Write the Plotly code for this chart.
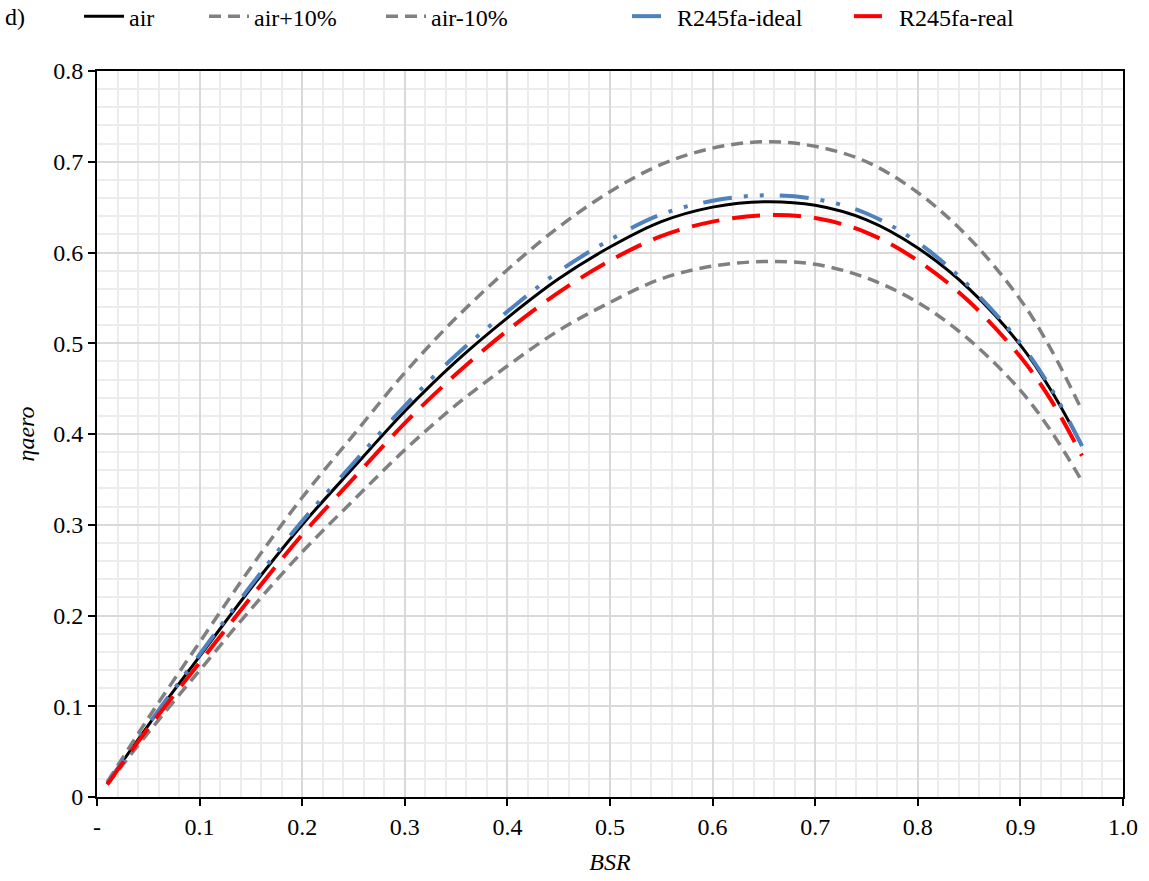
import plotly.graph_objects as go

bsr = [0.01, 0.05, 0.10, 0.15, 0.20, 0.25, 0.30, 0.35, 0.40, 0.45, 0.50,
       0.55, 0.60, 0.65, 0.70, 0.75, 0.80, 0.85, 0.90, 0.93, 0.96]
air = [0.015, 0.079, 0.155, 0.230, 0.300, 0.363, 0.425, 0.480, 0.528, 0.571, 0.606,
       0.634, 0.650, 0.656, 0.652, 0.636, 0.605, 0.560, 0.498, 0.448, 0.387]
air_p10 = [0.0165, 0.087, 0.1705, 0.253, 0.330, 0.399, 0.4675, 0.528, 0.581, 0.628, 0.667,
           0.697, 0.715, 0.722, 0.717, 0.700, 0.666, 0.616, 0.548, 0.493, 0.426]
air_m10 = [0.0135, 0.071, 0.1395, 0.207, 0.270, 0.327, 0.3825, 0.432, 0.475, 0.514, 0.545,
           0.571, 0.585, 0.590, 0.587, 0.572, 0.545, 0.504, 0.448, 0.403, 0.348]
r245_ideal = [0.015, 0.080, 0.157, 0.233, 0.304, 0.368, 0.431, 0.487, 0.535, 0.579, 0.614,
              0.642, 0.657, 0.663, 0.659, 0.643, 0.611, 0.563, 0.500, 0.450, 0.387]
r245_real = [0.014, 0.076, 0.148, 0.220, 0.289, 0.351, 0.412, 0.466, 0.514, 0.556, 0.591,
             0.618, 0.634, 0.641, 0.638, 0.622, 0.591, 0.546, 0.485, 0.437, 0.376]

x_tickvals = [0, 0.1, 0.2, 0.3, 0.4, 0.5, 0.6, 0.7, 0.8, 0.9, 1.0]
x_ticktext = ["-", "0.1", "0.2", "0.3", "0.4", "0.5", "0.6", "0.7", "0.8", "0.9", "1.0"]
y_tickvals = [0, 0.1, 0.2, 0.3, 0.4, 0.5, 0.6, 0.7, 0.8]
y_ticktext = ["0", "0.1", "0.2", "0.3", "0.4", "0.5", "0.6", "0.7", "0.8"]

FONT = "Liberation Serif"

series = [
    ("air", air, dict(color="black", width=3), "legend"),
    ("air+10%", air_p10, dict(color="#808080", width=3.5, dash="12px,7px"), "legend2"),
    ("air-10%", air_m10, dict(color="#808080", width=3.5, dash="12px,7px"), "legend3"),
    ("R245fa-ideal", r245_ideal, dict(color="#4F81BD", width=4, dash="29px,12px,4px,12px,4px,16px"), "legend4"),
    ("R245fa-real", r245_real, dict(color="#FF0000", width=4, dash="28px,13px"), "legend5"),
]
legend_x = [-0.0175, 0.1043, 0.2768, 0.5166, 0.7329]

fig = go.Figure()
for name, ys, ln, lg in series:
    fig.add_trace(go.Scatter(x=bsr, y=ys, name=name, mode="lines", line_shape="spline",
                             line=ln, legend=lg))

axis_common = dict(
    showline=True, linecolor="black", linewidth=2, mirror=True,
    ticks="outside", ticklen=7, tickcolor="black", tickwidth=2,
    showgrid=True, gridcolor="#d9d9d9", gridwidth=1.5,
    zeroline=False,
    tickfont=dict(family=FONT, size=24, color="black"),
)

fig.update_xaxes(
    range=[0, 1.0], tickvals=x_tickvals, ticktext=x_ticktext,
    minor=dict(dtick=0.02, tick0=0, showgrid=True, gridcolor="#ececec", gridwidth=1.5, ticks=""),
    title=dict(text="<i>BSR</i>", font=dict(family=FONT, size=24, color="black"), standoff=14),
    **axis_common,
)
fig.update_yaxes(
    range=[0, 0.8], tickvals=y_tickvals, ticktext=y_ticktext,
    minor=dict(dtick=0.02, tick0=0, showgrid=True, gridcolor="#ececec", gridwidth=1.5, ticks=""),
    title=dict(text="<i>ηaero</i>", font=dict(family=FONT, size=24, color="black"), standoff=12),
    **axis_common,
)

legends = {}
for i, lx in enumerate(legend_x):
    key = "legend" if i == 0 else f"legend{i + 1}"
    legends[key] = dict(orientation="h", x=lx, xanchor="left", y=1.075, yanchor="middle",
                        font=dict(family=FONT, size=24, color="black"),
                        bgcolor="rgba(0,0,0,0)", itemwidth=40)

fig.update_layout(
    width=1149, height=881,
    margin=dict(l=97, r=26, t=71, b=84, autoexpand=False),
    plot_bgcolor="white", paper_bgcolor="white",
    font=dict(family=FONT, size=24, color="black"),
    showlegend=True,
    annotations=[dict(text="d)", xref="paper", yref="paper", x=-0.092, y=1.075,
                      xanchor="left", yanchor="middle", showarrow=False,
                      font=dict(family=FONT, size=24, color="black"))],
    **legends,
)

fig.write_html("out.html")
